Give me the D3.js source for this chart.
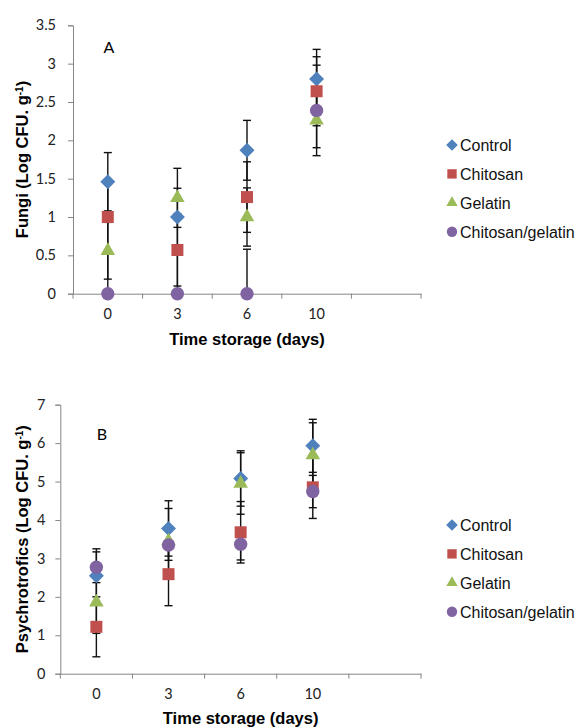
<!DOCTYPE html>
<html>
<head>
<meta charset="utf-8">
<script src="https://cdn.jsdelivr.net/npm/d3@7"></script>
<style>
  body { margin: 0; background: #fff; }
  svg { display: block; }
</style>
</head>
<body>
<div id="chart"></div>
<script>
// Storage days (last slot is an empty category, as in the original)
const days = ['0', '3', '6', '10'];
const seriesNames = ['Control', 'Chitosan', 'Gelatin', 'Chitosan/gelatin'];

// Panel A: fungi (Log CFU g-1), mean and error
const fungiControl = [1.46, 1.00, 1.87, 2.80];
const fungiControlErr = [0.38, 0.375, 0.39, 0.386];
const fungiChitosan = [1.00, 0.57, 1.26, 2.64];
const fungiChitosanErr = [0.44, 0.47, 0.46, 0.45];
const fungiGelatin = [0.56, 1.25, 1.00, 2.26];
const fungiGelatinErr = [0.37, 0.385, 0.38, 0.356];
const fungiChitGel = [0, 0, 0, 2.39];
const fungiChitGelErr = [0.53, 0.57, 0.58, 0.59];
const fungiTicks = [0, 0.5, 1, 1.5, 2, 2.5, 3, 3.5];

// Panel B: psychrotrofics (Log CFU g-1)
const psyControl = [2.55, 3.78, 5.08, 5.93];
const psyControlErr = [0.70, 0.72, 0.72, 0.69];
const psyChitosan = [1.22, 2.59, 3.68, 4.85];
const psyChitosanErr = [0.78, 0.82, 0.80, 0.81];
const psyGelatin = [1.86, 3.45, 4.95, 5.69];
const psyGelatinErr = [0.81, 0.85, 0.80, 0.84];
const psyChitGel = [2.77, 3.35, 3.37, 4.74];
const psyChitGelErr = [0.40, 0.40, 0.41, 0.42];
const psyTicks = [0, 1, 2, 3, 4, 5, 6, 7];

const colors = ['#4F81BD', '#C0504D', '#9BBB59', '#8064A2'];
const shapes = ['diamond', 'square', 'triangle', 'circle'];

const width = 582, height = 728;
const svg = d3.select('#chart').append('svg')
  .attr('width', width).attr('height', height)
  .attr('viewBox', `0 0 ${width} ${height}`);

function markerPath(shape, scale) {
  const s = scale || 1;
  if (shape === 'diamond') return d3.symbol().type(d3.symbolSquare).size(112 * s * s)();
  if (shape === 'square') return d3.symbol().type(d3.symbolSquare).size(144 * s * s)();
  if (shape === 'triangle') return d3.symbol().type(d3.symbolTriangle).size(92 * s * s)();
  return d3.symbol().type(d3.symbolCircle).size(140 * s * s)();
}

function drawPanel(opts) {
  const { left, right, top, bottom, ymax, ticks, series, errs, letter, yTitle, titleY, tickPad } = opts;

  const x = d3.scaleBand().domain([...days, '']).range([left, right]);
  const y = d3.scaleLinear().domain([0, ymax]).range([bottom, top]);

  const g = svg.append('g');

  // y axis
  const yAxis = g.append('g')
    .attr('transform', `translate(${left},0)`)
    .call(d3.axisLeft(y).tickValues(ticks).tickFormat(d3.format('')).tickSize(5).tickPadding(tickPad));
  yAxis.select('.domain').attr('stroke', '#868686');
  yAxis.selectAll('.tick line').attr('stroke', '#868686');
  yAxis.selectAll('text')
    .attr('font-family', 'Lato, "Open Sans", sans-serif')
    .attr('font-size', '14.5px').attr('fill', '#222');

  // x axis: labels in band centres, tick marks on band boundaries
  const xAxis = g.append('g')
    .attr('transform', `translate(0,${bottom})`)
    .call(d3.axisBottom(x).tickSize(0).tickPadding(15));
  xAxis.select('.domain').attr('stroke', '#868686');
  xAxis.selectAll('text')
    .attr('font-family', 'Lato, "Open Sans", sans-serif')
    .attr('font-size', '14.5px').attr('fill', '#222');
  const bounds = x.domain().map(d => x(d)).concat([x.range()[1]]);
  xAxis.selectAll('.bound').data(bounds).enter().append('line')
    .attr('x1', d => d).attr('x2', d => d)
    .attr('y1', 0).attr('y2', 5)
    .attr('stroke', '#868686');

  // axis titles
  g.append('text')
    .attr('x', (left + right) / 2).attr('y', titleY)
    .attr('text-anchor', 'middle')
    .attr('font-family', '"Liberation Sans", Arial, sans-serif')
    .attr('font-weight', 'bold').attr('font-size', '16.5px')
    .text('Time storage (days)');

  const yt = g.append('text')
    .attr('transform', `translate(28,${(top + bottom) / 2}) rotate(-90)`)
    .attr('text-anchor', 'middle')
    .attr('font-family', '"Liberation Sans", Arial, sans-serif')
    .attr('font-weight', 'bold').attr('font-size', '16.5px');
  yt.append('tspan').text(yTitle + ' (Log CFU. g');
  yt.append('tspan').attr('baseline-shift', 'super').attr('font-size', '10px').text('-1');
  yt.append('tspan').text(')');

  // panel letter
  g.append('text')
    .attr('x', opts.letterX).attr('y', opts.letterY)
    .attr('text-anchor', 'middle')
    .attr('font-family', 'Lato, "Open Sans", sans-serif')
    .attr('font-size', '16px')
    .text(letter);

  // error bars (drawn beneath markers)
  const cap = 4;
  series.forEach((vals, si) => {
    vals.forEach((v, i) => {
      const cx = x(days[i]) + x.bandwidth() / 2;
      const hi = v + errs[si][i];
      const lo = v - errs[si][i];
      const eg = g.append('g').attr('stroke', '#111').attr('stroke-width', 1.4);
      eg.append('line').attr('x1', cx).attr('x2', cx)
        .attr('y1', y(Math.min(hi, ymax))).attr('y2', y(Math.max(lo, 0)));
      if (hi <= ymax) eg.append('line').attr('x1', cx - cap).attr('x2', cx + cap).attr('y1', y(hi)).attr('y2', y(hi));
      if (lo >= 0) eg.append('line').attr('x1', cx - cap).attr('x2', cx + cap).attr('y1', y(lo)).attr('y2', y(lo));
    });
  });

  // markers
  series.forEach((vals, si) => {
    g.append('g').selectAll('path').data(vals).enter().append('path')
      .attr('d', markerPath(shapes[si]))
      .attr('transform', (d, i) => `translate(${x(days[i]) + x.bandwidth() / 2},${y(d)})` + (shapes[si] === 'diamond' ? ' rotate(45)' : ''))
      .attr('fill', colors[si]);
  });

  // legend
  const lg = g.append('g').attr('transform', `translate(452,${opts.legendY})`);
  seriesNames.forEach((name, si) => {
    const row = lg.append('g').attr('transform', `translate(0,${si * 28.9})`);
    row.append('path')
      .attr('d', markerPath(shapes[si], 0.78))
      .attr('transform', shapes[si] === 'diamond' ? 'rotate(45)' : null)
      .attr('fill', colors[si]);
    row.append('text')
      .attr('x', 8).attr('y', 6)
      .attr('font-family', '"Liberation Sans", Arial, sans-serif')
      .attr('font-size', '16px').attr('fill', '#111')
      .text(name);
  });
}

drawPanel({
  left: 73, right: 421, top: 25.3, bottom: 293.7, ymax: 3.5, ticks: fungiTicks,
  series: [fungiControl, fungiChitosan, fungiGelatin, fungiChitGel],
  errs: [fungiControlErr, fungiChitosanErr, fungiGelatinErr, fungiChitGelErr],
  letter: 'A', letterX: 109, letterY: 53,
  yTitle: 'Fungi', titleY: 345, tickPad: 12, legendY: 145
});

drawPanel({
  left: 60.3, right: 421, top: 404.7, bottom: 673.7, ymax: 7, ticks: psyTicks,
  series: [psyControl, psyChitosan, psyGelatin, psyChitGel],
  errs: [psyControlErr, psyChitosanErr, psyGelatinErr, psyChitGelErr],
  letter: 'B', letterX: 102, letterY: 440,
  yTitle: 'Psychrotrofics', titleY: 724, tickPad: 10, legendY: 525
});
</script>
</body>
</html>
